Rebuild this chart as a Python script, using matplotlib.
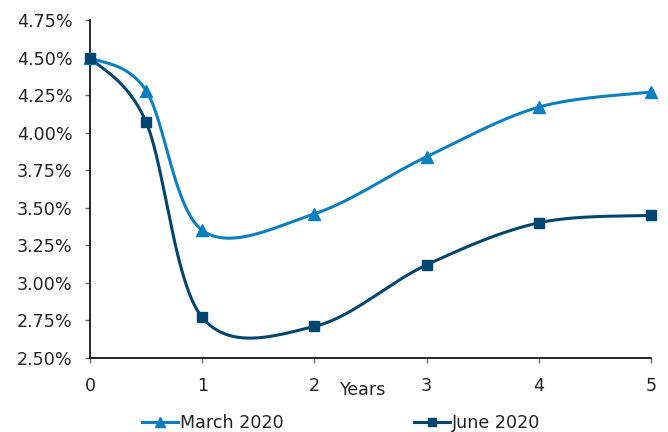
import numpy as np
import matplotlib.pyplot as plt
from matplotlib.ticker import FuncFormatter
from matplotlib.lines import Line2D

# yield curve points (years, %)
years = [0, 0.5, 1, 2, 3, 4, 5]
march_2020 = [4.50, 4.28, 3.35, 3.46, 3.84, 4.17, 4.27]
june_2020 = [4.50, 4.07, 2.77, 2.71, 3.12, 3.40, 3.45]

c_march = '#0a80c0'
c_june = '#00466f'
fs = 12.6


# smooth line through points, bezier segments like a spreadsheet "smoothed line"
def smooth(xs, ys, n=60):
    p = np.column_stack([xs, ys]).astype(float)
    out = []
    for i in range(len(p) - 1):
        p0 = p[i - 1] if i > 0 else p[i]
        p3 = p[i + 2] if i + 2 < len(p) else p[i + 1]
        c1 = p[i] + (p[i + 1] - p0) / 6
        c2 = p[i + 1] - (p3 - p[i]) / 6
        t = np.linspace(0, 1, n)[:, None]
        seg = ((1 - t) ** 3 * p[i] + 3 * (1 - t) ** 2 * t * c1
               + 3 * (1 - t) * t ** 2 * c2 + t ** 3 * p[i + 1])
        out.append(seg)
    out = np.vstack(out)
    return out[:, 0], out[:, 1]


fig = plt.figure(figsize=(6.68, 4.32), dpi=100)
ax = fig.add_axes([90 / 668, 1 - 358 / 432, (651 - 90) / 668, (358 - 20) / 432])

sx, sy = smooth(years, march_2020)
ax.plot(sx, sy, color=c_march, lw=2.2, zorder=3)
ax.plot(years, march_2020, ls='none', marker='^', ms=9, color=c_march, zorder=4, clip_on=False)

sx, sy = smooth(years, june_2020)
ax.plot(sx, sy, color=c_june, lw=2.2, zorder=3)
ax.plot(years, june_2020, ls='none', marker='s', ms=7.5, color=c_june, zorder=5, clip_on=False)

ax.set_xlim(0, 5)
ax.set_ylim(2.5, 4.75)
ax.set_yticks(np.arange(2.5, 4.76, 0.25))
ax.set_xticks(range(6))
ax.yaxis.set_major_formatter(FuncFormatter(lambda v, p: f'{v:.2f}%'))

for s in ['top', 'right']:
    ax.spines[s].set_visible(False)
for s in ['left', 'bottom']:
    ax.spines[s].set_color('black')
    ax.spines[s].set_linewidth(1.2)
ax.tick_params(axis='both', direction='out', length=3.5, width=1, color='#666666',
               labelsize=fs, labelcolor='#222222')
ax.tick_params(axis='x', pad=10)
ax.tick_params(axis='y', pad=9)

fig.text(362 / 668, 1 - 390 / 432, 'Years', ha='center', va='center',
         fontsize=fs, color='#222222')

handles = [
    Line2D([], [], color=c_march, lw=2.2, marker='^', ms=7),
    Line2D([], [], color=c_june, lw=2.2, marker='s', ms=6),
]
fig.legend(handles, ['March 2020', 'June 2020'], loc='center left',
           bbox_to_anchor=(135 / 668, 1 - 423 / 432), ncol=2, frameon=False,
           handlelength=2.05, handletextpad=0.15, columnspacing=7.4,
           borderaxespad=0, fontsize=fs, labelcolor='#222222')

fig.savefig('out.png', dpi=100)
